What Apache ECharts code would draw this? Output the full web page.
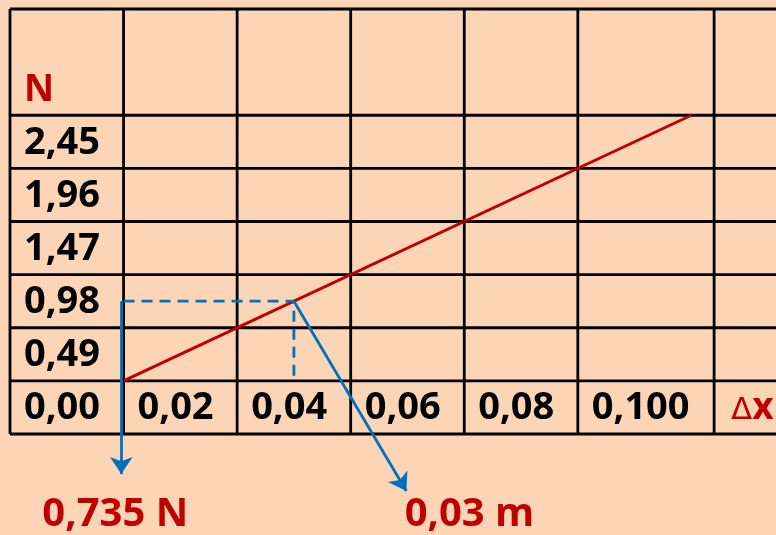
<!DOCTYPE html>
<html>
<head>
<meta charset="utf-8">
<script src="https://cdn.jsdelivr.net/npm/echarts@6/dist/echarts.min.js"></script>
<style>html,body{margin:0;padding:0;background:#FBD5B5;}#c{width:776px;height:535px;}</style>
</head>
<body>
<div id="c"></div>
<script>
// ---- data ----
const colEdges = [-0.02, 0, 0.02, 0.04, 0.06, 0.08, 0.104];
const rowEdges = [-0.49, 0, 0.49, 0.98, 1.47, 1.96, 2.45, 3.43];
const xTickLabels = ['0,00', '0,02', '0,04', '0,06', '0,08', '0,100'];
const yTickLabels = ['0,49', '0,98', '1,47', '1,96', '2,45'];
const xName = 'Δx';
const yName = 'N';
const forceX = [0, 0.1];
const forceY = [0, 2.45];
const readX = 0.03;
const readY = 0.735;
const arrowTips = [[-0.0004, -0.86], [0.0498, -1.015]];
const noteTexts = ['0,735 N', '0,03 m'];
const notePos = [[-0.0143, -1.23], [0.0495, -1.23]];

const X_MIN = -0.02, X_MAX = 0.1149, Y_MIN = -0.49, Y_MAX = 3.43;
const RED = '#C00000', BLUE = '#0070C0';
const FONT = '"Open Sans", "DejaVu Sans", sans-serif';

// grid segments
const segs = [];
colEdges.forEach(x => segs.push([x, Y_MIN, x, Y_MAX]));
rowEdges.forEach(y => segs.push([X_MIN, y, X_MAX, y]));

// cell labels: [x(left edge), y(mid), text, kind]
const labels = [];
const bottomMid = (rowEdges[0] + rowEdges[1]) / 2;
xTickLabels.forEach((t, i) => labels.push([colEdges[i], bottomMid, t, 'tick']));
labels.push([colEdges[6], bottomMid, xName, 'xname']);
yTickLabels.forEach((t, i) => labels.push([X_MIN, (rowEdges[i + 1] + rowEdges[i + 2]) / 2, t, 'tick']));
labels.push([X_MIN, rowEdges[6], yName, 'yname']);
noteTexts.forEach((t, i) => labels.push([notePos[i][0], notePos[i][1], t, 'note']));

const chart = echarts.init(document.getElementById('c'), null, {renderer: 'canvas'});
chart.setOption({
  backgroundColor: '#FBD5B5',
  animation: false,
  grid: {left: 10, top: 9, right: 0, bottom: 101, containLabel: false},
  xAxis: {type: 'value', min: X_MIN, max: X_MAX, show: false},
  yAxis: {type: 'value', min: Y_MIN, max: Y_MAX, show: false},
  series: [
    {
      type: 'custom', clip: false, silent: true,
      data: segs,
      encode: {x: [0, 2], y: [1, 3]},
      renderItem: function (params, api) {
        const p1 = api.coord([api.value(0), api.value(1)]);
        const p2 = api.coord([api.value(2), api.value(3)]);
        return {type: 'line', shape: {x1: p1[0], y1: p1[1], x2: p2[0], y2: p2[1]},
          style: {stroke: '#000', lineWidth: 2.8}};
      }
    },
    {
      type: 'line', symbol: 'none', silent: true,
      data: forceX.map((x, i) => [x, forceY[i]]),
      lineStyle: {color: RED, width: 3}
    },
    {
      type: 'line', symbol: 'none', silent: true,
      data: [[0, readY], [readX, readY], [readX, 0]],
      lineStyle: {color: BLUE, width: 2.8, type: [11, 7]}
    },
    {
      type: 'lines', coordinateSystem: 'cartesian2d', clip: false, silent: true,
      symbol: ['none', 'arrow'], symbolSize: 17,
      lineStyle: {color: BLUE, width: 2.8, opacity: 1, curveness: 0},
      data: [
        {coords: [[arrowTips[0][0], readY], arrowTips[0]]},
        {coords: [[readX, readY], arrowTips[1]]}
      ]
    },
    {
      type: 'custom', clip: false, silent: true,
      data: labels,
      encode: {x: 0, y: 1},
      renderItem: function (params, api) {
        const d = labels[params.dataIndex];
        const p = api.coord([d[0], d[1]]);
        const kind = d[3];
        if (kind === 'tick') {
          return {type: 'text', x: p[0] + 14, y: p[1] + 1,
            style: {text: d[2], fill: '#000', font: 'bold 38px ' + FONT, align: 'left', verticalAlign: 'middle'}};
        }
        if (kind === 'xname') {
          return {type: 'text', x: p[0] + 17, y: p[1] + 1,
            style: {text: '{d|Δ}{x|x}', align: 'left', verticalAlign: 'middle',
              rich: {
                d: {fill: RED, fontSize: 31, fontWeight: 'normal', fontFamily: '"DejaVu Sans", sans-serif', verticalAlign: 'bottom'},
                x: {fill: RED, fontSize: 37, fontWeight: 'bold', fontFamily: FONT, verticalAlign: 'bottom'}
              }}};
        }
        if (kind === 'yname') {
          return {type: 'text', x: p[0] + 14, y: p[1] - 25,
            style: {text: d[2], fill: RED, font: 'bold 37px ' + FONT, align: 'left', verticalAlign: 'middle'}};
        }
        return {type: 'text', x: p[0], y: p[1],
          style: {text: d[2], fill: RED, font: 'bold 40px ' + FONT, align: 'left', verticalAlign: 'middle'}};
      }
    }
  ]
});
</script>
</body>
</html>
